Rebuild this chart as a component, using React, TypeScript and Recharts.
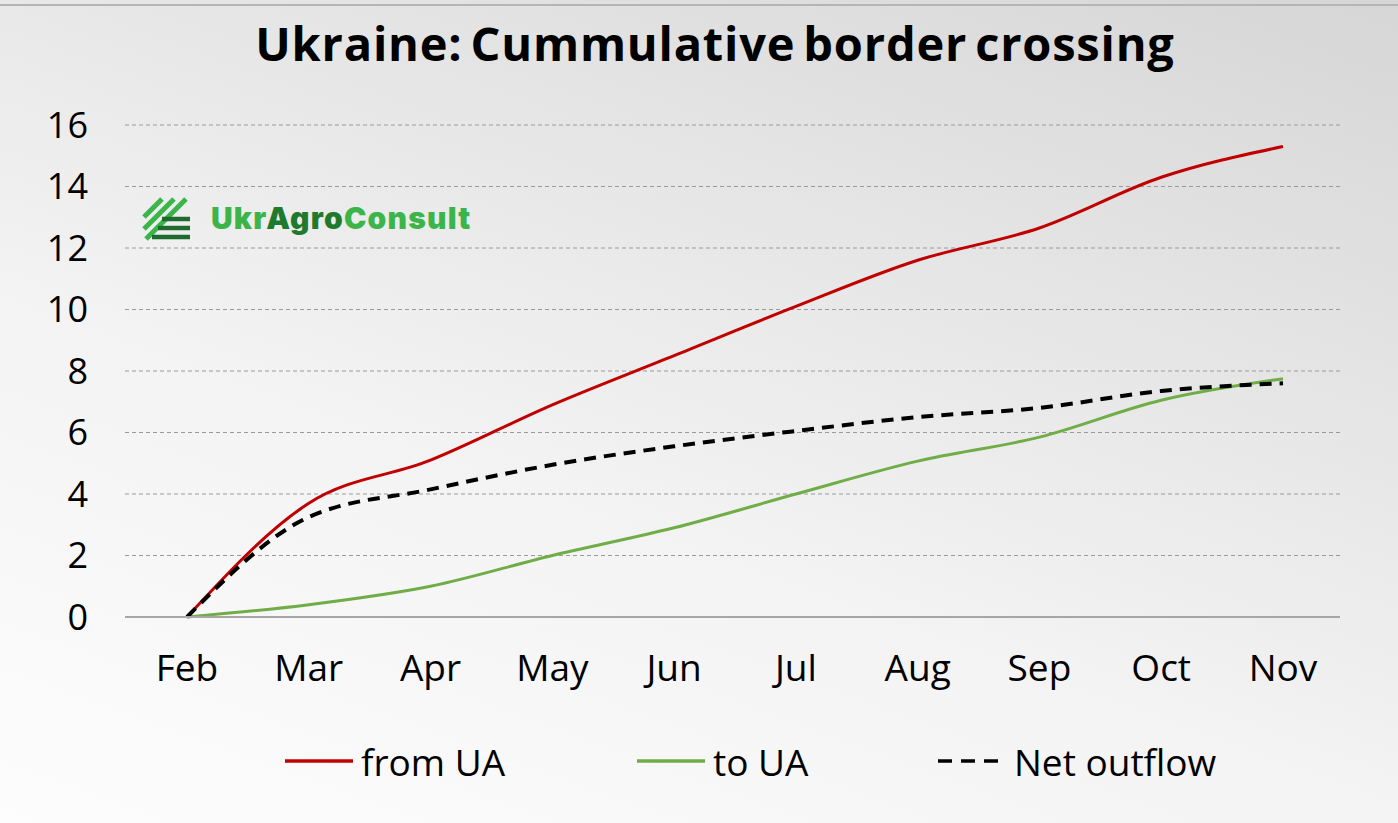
import React from "react";
import { LineChart, Line, XAxis, YAxis, CartesianGrid, Legend } from "recharts";

const months = ["Feb", "Mar", "Apr", "May", "Jun", "Jul", "Aug", "Sep", "Oct", "Nov"];
const fromUA = [0, 3.7, 5.1, 6.9, 8.5, 10.1, 11.6, 12.65, 14.3, 15.3];
const toUA = [0, 0.4, 1.0, 2.0, 2.9, 4.0, 5.07, 5.85, 7.05, 7.75];
const netOutflow = [0, 3.25, 4.15, 4.95, 5.55, 6.05, 6.5, 6.8, 7.35, 7.6];
const yTicks = [0, 2, 4, 6, 8, 10, 12, 14, 16];

const data = months.map((m, i) => ({
  month: m,
  from: fromUA[i],
  to: toUA[i],
  net: netOutflow[i],
}));

const FONT = "'Open Sans', sans-serif";

const legendItems = [
  { label: "from UA", color: "#C00000", dash: undefined as string | undefined },
  { label: "to UA", color: "#70AD47", dash: undefined as string | undefined },
  { label: "Net outflow", color: "#000000", dash: "14 9" },
];

const CustomLegend = () => (
  <div
    style={{
      height: 64,
      fontFamily: FONT,
      fontSize: 37,
      color: "#000",
      position: "relative",
    }}
  >
    {legendItems.map((it, i) => (
      <div
        key={it.label}
        style={{
          position: "absolute",
          left: [285, 637, 938][i],
          top: 0,
          height: 64,
          display: "flex",
          alignItems: "center",
          whiteSpace: "nowrap",
        }}
      >
        <svg width={70} height={10} style={{ marginRight: 6 }}>
          <line x1={0} y1={5} x2={68} y2={5} stroke={it.color} strokeWidth={3.5} strokeDasharray={it.dash} />
        </svg>
        <span>{it.label}</span>
      </div>
    ))}
  </div>
);

const Logo = () => (
  <div style={{ position: "absolute", left: 140, top: 195, display: "flex", alignItems: "center" }}>
    <svg width={54} height={46}>
      <g stroke="#3BB54A" strokeWidth={5} strokeLinecap="butt">
        <line x1={4} y1={22} x2={22} y2={4} />
        <line x1={4} y1={34} x2={34} y2={4} />
        <line x1={6} y1={44} x2={46} y2={4} />
      </g>
      <g stroke="#1E6B2E" strokeWidth={4.5}>
        <line x1={22} y1={24} x2={50} y2={24} />
        <line x1={18} y1={33} x2={50} y2={33} />
        <line x1={12} y1={42} x2={50} y2={42} />
      </g>
    </svg>
    <div style={{ fontFamily: "Inter, sans-serif", fontWeight: 900, fontSize: 30, marginLeft: 17, letterSpacing: 1.2 }}>
      <span style={{ color: "#3BB54A" }}>Ukr</span>
      <span style={{ color: "#1F7A2E" }}>Agro</span>
      <span style={{ color: "#3BB54A" }}>Consult</span>
    </div>
  </div>
);

export default function App() {
  return (
    <div
      style={{
        position: "absolute",
        left: 0,
        top: 0,
        width: 1398,
        height: 823,
        overflow: "hidden",
        background: "linear-gradient(20deg, #fdfdfd 0%, #f3f3f3 40%, #e2e2e2 75%, #d6d6d6 100%)",
      }}
    >
      <div style={{ position: "absolute", left: 0, top: 4, width: 1398, height: 2, background: "#b5b5b5" }} />
      <div
        style={{
          position: "absolute",
          left: 0,
          top: 11,
          width: 1430,
          textAlign: "center",
          fontFamily: FONT,
          fontWeight: 700,
          fontSize: 47,
          letterSpacing: 0.8,
          wordSpacing: -5,
          color: "#000",
        }}
      >
        Ukraine: Cummulative border crossing
      </div>
      <LineChart
        width={1398}
        height={823}
        data={data}
        margin={{ top: 125, right: 58, bottom: 30, left: 0 }}
        style={{ position: "absolute", left: 0, top: 0 }}
      >
        <CartesianGrid vertical={false} stroke="#9a9a9a" strokeDasharray="4 3" strokeWidth={1} />
        <XAxis
          dataKey="month"
          padding={{ left: 62, right: 57 }}
          tickLine={false}
          tickSize={0}
          tickMargin={38}
          height={112}
          axisLine={{ stroke: "#a6a6a6", strokeWidth: 2 }}
          tick={{ fontFamily: FONT, fontSize: 37, fill: "#000" }}
          interval={0}
        />
        <YAxis
          domain={[0, 16]}
          ticks={yTicks}
          width={125}
          tickLine={false}
          axisLine={false}
          tickSize={0}
          tickMargin={37}
          tick={{ fontFamily: FONT, fontSize: 36, fill: "#000" }}
        />
        <Legend verticalAlign="bottom" height={64} content={<CustomLegend />} />
        <Line type="monotone" dataKey="from" stroke="#C00000" strokeWidth={3} dot={false} isAnimationActive={false} />
        <Line type="monotone" dataKey="to" stroke="#70AD47" strokeWidth={3} dot={false} isAnimationActive={false} />
        <Line
          type="monotone"
          dataKey="net"
          stroke="#000000"
          strokeWidth={4}
          strokeDasharray="12 8"
          dot={false}
          isAnimationActive={false}
        />
      </LineChart>
      <Logo />
    </div>
  );
}
